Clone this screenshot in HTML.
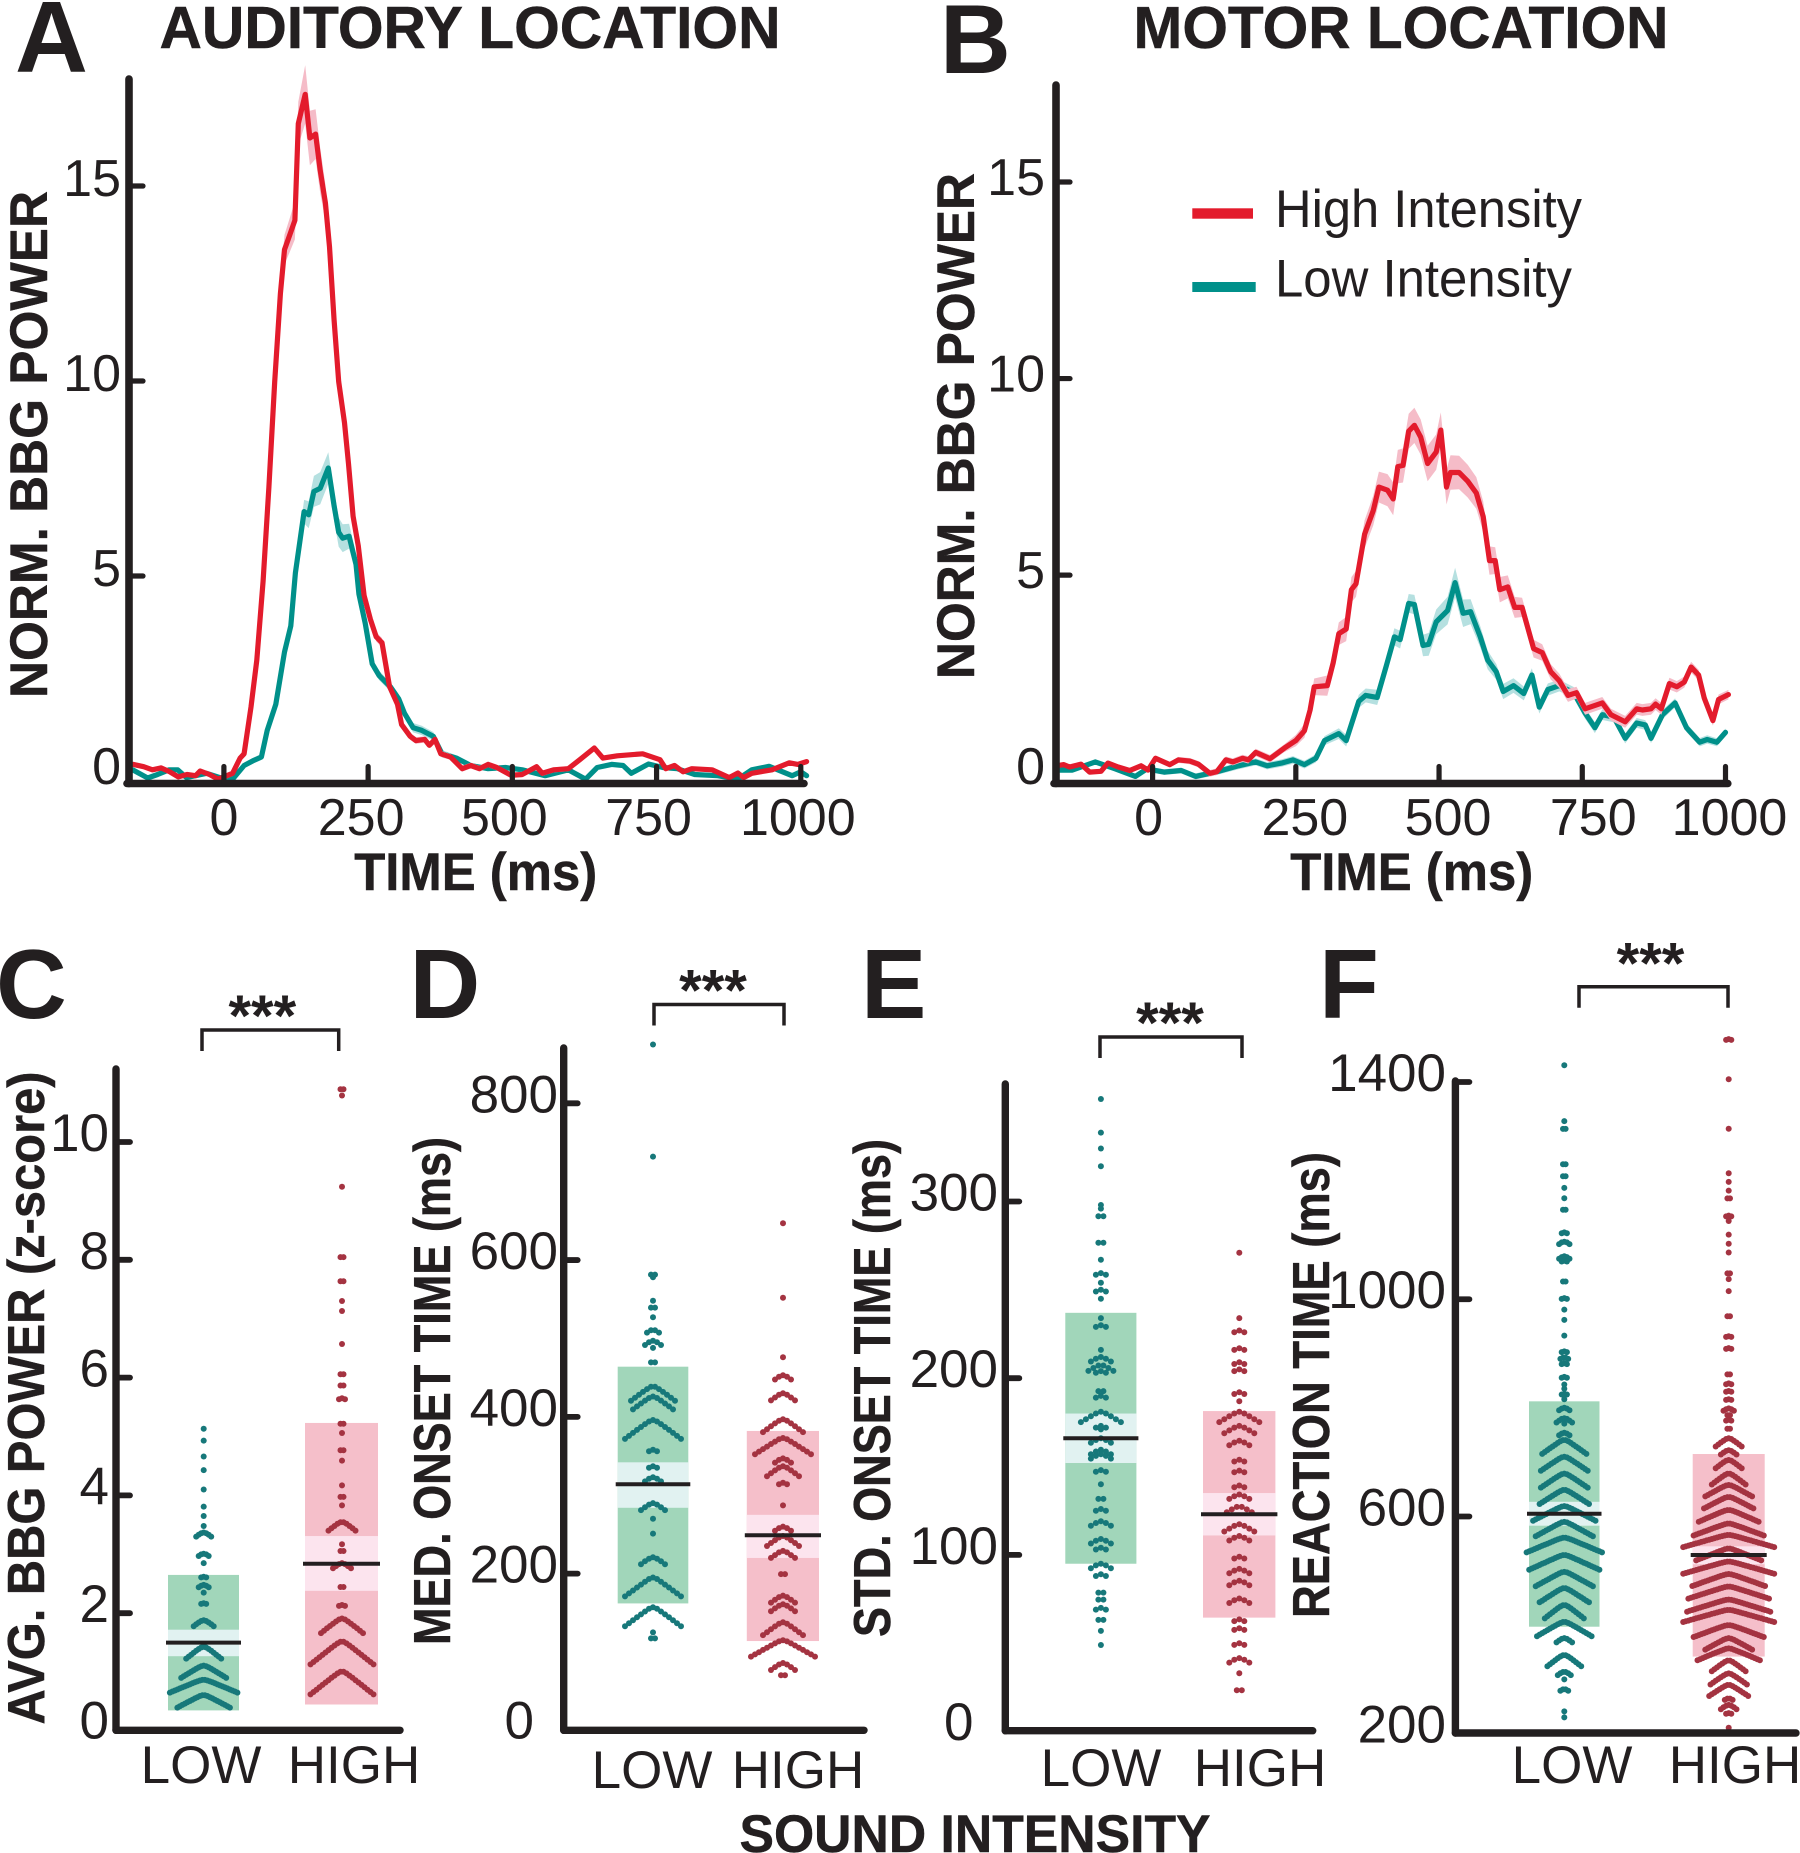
<!DOCTYPE html>
<html lang="en">
<head>
<meta charset="utf-8">
<title>Auditory and motor BBG power by sound intensity</title>
<style>
html,body{margin:0;padding:0;background:#fff;}
svg{display:block;}
text{font-family:"Liberation Sans",Arial,sans-serif;fill:#231f20;}
.bold{font-weight:700;stroke:#231f20;stroke-width:0.5px;}
.letter{font-weight:700;font-size:98px;}
</style>
</head>
<body>
<svg id="figure" xmlns="http://www.w3.org/2000/svg" width="1800" height="1853" viewBox="0 0 1800 1853">
  <rect x="0" y="0" width="1800" height="1853" fill="#ffffff"/>

  <text class="letter" x="15" y="72" style="font-size:101px">A</text>
  <text class="letter" x="940" y="73">B</text>
  <text class="letter" x="-4" y="1018">C</text>
  <text class="letter" x="409.500" y="1018">D</text>
  <text class="letter" x="861" y="1018">E</text>
  <text class="letter" x="1319" y="1018">F</text>

  <text class="bold" x="470" y="48" font-size="59" text-anchor="middle" textLength="621" lengthAdjust="spacingAndGlyphs">AUDITORY LOCATION</text>
  <text class="bold" x="1401" y="48" font-size="59" text-anchor="middle" textLength="535" lengthAdjust="spacingAndGlyphs">MOTOR LOCATION</text>

  <text class="bold" transform="translate(47 444.5) rotate(-90)" font-size="53" text-anchor="middle" textLength="507" lengthAdjust="spacingAndGlyphs">NORM. BBG POWER</text>
  <text class="bold" transform="translate(974 426) rotate(-90)" font-size="53" text-anchor="middle" textLength="506" lengthAdjust="spacingAndGlyphs">NORM. BBG POWER</text>
  <text class="bold" x="475.7" y="890" font-size="53" text-anchor="middle" textLength="243" lengthAdjust="spacingAndGlyphs">TIME (ms)</text>
  <text class="bold" x="1411.7" y="890" font-size="53" text-anchor="middle" textLength="243" lengthAdjust="spacingAndGlyphs">TIME (ms)</text>

  <text class="bold" transform="translate(44 1398) rotate(-90)" font-size="52" text-anchor="middle" textLength="653" lengthAdjust="spacingAndGlyphs">AVG. BBG POWER (z-score)</text>
  <text class="bold" transform="translate(450 1391) rotate(-90)" font-size="52" text-anchor="middle" textLength="508" lengthAdjust="spacingAndGlyphs">MED. ONSET TIME (ms)</text>
  <text class="bold" transform="translate(890 1388) rotate(-90)" font-size="52" text-anchor="middle" textLength="498" lengthAdjust="spacingAndGlyphs">STD. ONSET TIME (ms)</text>
  <text class="bold" transform="translate(1329 1385) rotate(-90)" font-size="52" text-anchor="middle" textLength="466" lengthAdjust="spacingAndGlyphs">REACTION TIME (ms)</text>
  <text class="bold" x="975" y="1852" font-size="53" text-anchor="middle" textLength="471" lengthAdjust="spacingAndGlyphs">SOUND INTENSITY</text>

  <g>
    <rect x="1192.3" y="208.3" width="60.7" height="10.4" fill="#e31b2c"/>
    <text x="1275" y="227" font-size="53" textLength="307" lengthAdjust="spacingAndGlyphs">High Intensity</text>
    <rect x="1192.3" y="282" width="63.4" height="10" fill="#00908a"/>
    <text x="1275" y="296.7" font-size="53" textLength="297" lengthAdjust="spacingAndGlyphs">Low Intensity</text>
  </g>
  <g id="plots"></g>
</svg>
<script>
// ---- Panel A: time courses (ms, normalized BBG power) ----
const aHighTimes = [-157,-139,-124,-109,-94,-79,-64,-49,-41,-25,-10,5,15,28,35,47,57,68,78,88,98,105,114,123,129,141,149,159,167,176,183,191,199,209,216,224,233,243,254,264,274,287,301,308,323,333,348,356,366,376,393,413,428,443,458,473,498,517,542,552,572,597,617,642,657,682,726,756,766,781,796,811,846,876,891,901,915,950,980,995,1010];
const aHighValues = [0.17,0.11,0.03,0.08,-0.02,-0.15,-0.09,-0.12,0,-0.09,-0.21,-0.12,-0.06,0.33,0.44,1.64,2.84,4.87,7.28,9.98,12.24,13.37,13.74,14.12,16.6,17.35,16.23,16.33,15.4,14.57,13.44,11.56,9.98,8.93,7.88,6.53,5.77,4.5,3.89,3.44,3.29,2.17,1.71,1.19,0.89,0.78,0.81,0.66,0.81,0.44,0.36,0.06,0.14,0.06,0.17,0.09,-0.11,-0.09,0.11,-0.06,0.03,0.06,0.29,0.59,0.33,0.39,0.44,0.29,0.06,0.14,-0.02,0.06,0.03,-0.17,-0.05,-0.17,-0.06,0.03,0.21,0.17,0.24];
const aLowTimes = [-158,-132,-115,-95,-80,-65,-30,-5,15,35,50,65,75,90,105,116,124,139,147,156,167,181,191,199,206,217,229,234,245,257,269,289,303,313,328,343,363,378,403,428,458,488,517,557,597,627,647,672,692,706,736,761,786,816,856,891,915,945,985,1000,1010];
const aLowValues = [0.03,-0.18,-0.09,0.03,0.03,-0.17,-0.06,-0.18,-0.21,0.14,0.26,0.36,1.04,1.71,3.05,3.72,5.08,6.65,6.57,7.17,7.25,7.77,6.8,6.12,5.97,6.02,5.3,4.54,3.79,2.75,2.45,2.15,1.85,1.48,1.11,1.04,0.89,0.44,0.33,0.14,0.06,0.09,0.03,-0.12,0.03,-0.21,0.09,0.17,0.14,-0.06,0.18,0.09,0.06,-0.09,-0.12,-0.21,0.03,0.12,-0.12,-0.02,-0.12];
const aHighSemTimes = [-160,60,100,125,141,165,195,240,290,340,1010];
const aHighSem = [0.04,0.08,0.35,0.5,0.75,0.6,0.25,0.12,0.12,0.08,0.04];
const aLowSemTimes = [-160,90,130,160,185,210,260,350,420,1010];
const aLowSem = [0.04,0.08,0.25,0.42,0.4,0.35,0.12,0.12,0.06,0.05];

// ---- Panel B: time courses (ms, normalized BBG power) ----
const bHighTimes = [-168,-155,-145,-125,-110,-90,-78,-60,-40,-20,-8,5,30,45,65,80,100,112,128,140,157,167,180,205,230,250,265,275,282,305,315,325,338,347,355,370,385,395,410,420,428,437,447,457,468,480,495,503,513,520,535,550,565,577,588,598,606,620,632,645,665,680,695,710,725,740,755,785,800,825,845,855,870,878,888,902,915,928,940,953,963,978,988,1005];
const bHighValues = [0.15,0.18,0.12,0.19,-0.01,0.01,0.22,0.12,0.03,0.15,0.04,0.34,0.18,0.3,0.27,0.19,-0.04,0,0.3,0.25,0.34,0.3,0.49,0.33,0.6,0.79,1.04,1.57,2.16,2.19,2.76,3.51,3.63,4.63,4.78,6.04,6.64,7.24,7.16,6.94,7.76,7.79,8.66,8.81,8.51,7.84,8.13,8.69,7.24,7.61,7.61,7.39,7.09,6.49,5.37,5.37,4.63,4.7,4.18,4.18,3.13,3.03,2.54,2.31,1.94,2.01,1.6,1.75,1.45,1.27,1.6,1.57,1.6,1.72,1.6,2.24,2.16,2.28,2.66,2.46,1.87,1.3,1.84,1.96];
const bLowTimes = [-168,-140,-100,-65,-30,-10,20,50,75,110,150,180,200,225,245,265,285,300,325,338,360,372,392,408,422,432,447,457,472,482,495,515,528,542,555,572,585,600,612,630,648,662,675,690,710,735,755,772,785,805,825,845,860,870,890,912,932,955,968,985,1000];
const bLowValues = [0.04,0.04,0.25,0.07,-0.12,0.07,-0.01,0.03,-0.12,-0.01,0.15,0.25,0.15,0.22,0.3,0.18,0.34,0.79,0.97,0.79,1.79,1.94,1.89,2.69,3.43,3.36,4.28,4.25,3.21,3.24,3.81,4.1,4.81,4.03,4.07,3.43,2.84,2.54,2.04,2.19,1.99,2.46,1.64,2.09,2.19,2.01,1.49,1.12,1.45,1.39,0.85,1.24,1.19,0.85,1.45,1.75,1.12,0.75,0.82,0.75,1];
const bHighSemTimes = [-168,230,300,400,455,505,570,640,740,900,1005];
const bHighSem = [0.05,0.1,0.25,0.4,0.45,0.45,0.4,0.25,0.15,0.15,0.12];
const bLowSemTimes = [-168,280,400,460,530,600,700,1000];
const bLowSem = [0.05,0.1,0.2,0.25,0.38,0.2,0.15,0.1];

// ---- Shared time-course tick labels ----
const timeTicks = [0,250,500,750,1000];
const powerTicks = [5,10,15];

// ---- Panel C: average BBG power (z-score) ----
const cCategories = ['LOW','HIGH'];
const cTicks = [2,4,6,8,10];
const cLowRowValues = [5.13,4.93,4.66,4.43,4.1,3.81,3.65,3.48,3.37,3.01,2.85,2.62,2.48,2.35,2.17,1.88,1.43,1.11,0.87,0.61];
const cLowRowCounts = [1,1,1,1,1,1,1,1,7,5,1,3,5,1,3,9,15,19,28,22];
const cHighRowValues = [10.9,10.79,9.24,8.05,7.64,7.3,7.13,6.57,6.06,5.87,5.65,5.22,5.06,4.77,4.59,4.17,3.98,3.83,3.55,3.17,3.06,2.85,2.45,2.14,1.91,1.52,1.01];
const cHighRowCounts = [2,1,1,2,2,1,1,1,2,2,3,2,1,2,1,1,2,1,10,1,2,7,2,3,15,22,22];
const cLowStats = [0.35,1.27,1.5,1.72,2.65];
const cHighStats = [0.45,2.38,2.84,3.31,5.23];

// ---- Panel D: median onset time (ms) ----
const dCategories = ['LOW','HIGH'];
const dTicks = [200,400,600,800];
const dLowRowValues = [875,732,582,578,548,540,527,511,497,488,470,439,426,396,358,337,323,290,270,251,221,195,157,125,118];
const dLowRowCounts = [1,1,2,1,1,2,1,4,5,1,2,12,11,15,3,3,5,7,1,1,7,15,15,1,2];
const dHighRowValues = [647,552,476,453,430,397,373,347,337,316,287,260,248,229,200,172,161,138,115,86,71];
const dHighRowCounts = [1,1,1,5,7,11,15,5,9,3,1,5,9,7,2,7,7,11,17,7,2];
const dLowStats = [162,284,314,342,464];
const dHighStats = [114,220,249,275,382];

// ---- Panel E: std. onset time (ms) ----
const eCategories = ['LOW','HIGH'];
const eTicks = [100,200,300];
const eLowRowValues = [358,339,330,320,298,296,292,277,267,259.5,254,250,245,234,230,216,212,207.5,204,193,190,181,173,171,166,159.5,157,148,140,132,126,119,109,104,95,89,79,75,70,63.5,57,49];
const eLowRowCounts = [1,1,1,1,1,1,2,2,1,3,1,3,1,1,3,1,5,6,3,2,3,9,3,1,5,5,5,3,1,2,3,5,5,3,5,3,2,2,3,2,1,1];
const eHighRowValues = [271,234,227,217,209,205,192,187,181,173,164.6,153.8,147.7,139.3,134.2,127.5,117.4,110.7,98.9,92.1,85.4,75.3,63.5,58.5,50,41.6,33,23.7];
const eHighRowCounts = [1,1,3,3,3,3,3,1,9,7,5,3,3,3,5,6,7,5,3,5,5,5,3,3,3,5,1,2];
const eLowStats = [95,152,166,180,237];
const eHighStats = [64.5,111,123,135,181.4];

// ---- Panel F: reaction time (ms) ----
const fCategories = ['LOW','HIGH'];
const fTicks = [600,1000,1400];
const fLowRowValues = [1431,1328,1314,1249,1227,1205,1186,1165,1123,1106,1079,1071,1033,1002,981,962,933,904,893,882,857,843,835,826,816,800,781,771,754,741,710,679,649,619,590,561,529,498,468,437,406,376,345,314,300,282,241,230];
const fLowRowCounts = [1,1,2,2,2,1,1,2,3,5,5,3,2,3,1,1,1,3,4,3,3,1,1,3,1,5,7,1,5,18,19,19,20,25,23,30,28,23,20,16,22,7,14,6,1,4,1,1];
const fHighRowValues = [1479,1405,1314,1232,1216,1200,1186,1154,1144,1119,1102,1086,1048,1037,1015,969,932,910,862,845,831,816,799,787,778,762,744,722,704,679,658,636,612,587,566,541,517,494,471,447,428,400,376,357,335,311,290,265,253,238,211];
const fHighRowCounts = [3,1,1,1,1,1,2,3,1,1,1,1,2,1,1,2,3,3,2,3,3,3,5,2,3,2,11,7,11,14,19,20,24,28,36,26,36,29,32,33,36,28,19,25,14,15,16,4,7,3,1];
const fLowStats = [397,583,605,627,812];
const fHighStats = [342,512,529,545,715];

const SVGNS = 'http://www.w3.org/2000/svg';
const INK = '#231f20';
const plots = document.getElementById('plots');

function add(parent, tag, attrs) {
  const el = document.createElementNS(SVGNS, tag);
  for (const k in attrs) el.setAttribute(k, attrs[k]);
  
  parent.appendChild(el);
  return el;
}
function linearScale(d0, r0, d1, r1) {
  return function (v) { return r0 + (v - d0) * (r1 - r0) / (d1 - d0); };
}
function interp(xs, ys, x) {
  if (x <= xs[0]) return ys[0];
  for (let i = 1; i < xs.length; i++) {
    if (x <= xs[i]) return ys[i - 1] + (ys[i] - ys[i - 1]) * (x - xs[i - 1]) / (xs[i] - xs[i - 1]);
  }
  return ys[ys.length - 1];
}

function drawSeries(g, key, times, values, semTimes, sem, x, y, lineColor, bandColor) {
  const upper = times.map(function (t, i) { return x(t).toFixed(1) + ',' + y(values[i] + interp(semTimes, sem, t)).toFixed(1); });
  const lower = times.map(function (t, i) { return x(t).toFixed(1) + ',' + y(values[i] - interp(semTimes, sem, t)).toFixed(1); }).reverse();
  const band = add(g, 'polygon', { points: upper.concat(lower).join(' '), fill: bandColor, stroke: 'none' });
  
  const line = add(g, 'polyline', {
    points: times.map(function (t, i) { return x(t).toFixed(1) + ',' + y(values[i]).toFixed(1); }).join(' '),
    fill: 'none', stroke: lineColor, 'stroke-width': 5.2, 'stroke-linejoin': 'round', 'stroke-linecap': 'round'
  });
  
}

function drawTimePanel(p) {
  const g = add(plots, 'g', {});
  
  const x = linearScale(0, p.x0, 1000, p.x1000);
  const y = linearScale(0, p.y0, 15, p.y15);

  drawSeries(g, 'low-intensity', p.lowT, p.lowV, p.lowSemT, p.lowSem, x, y, '#00908a', '#b5e0e0');
  drawSeries(g, 'high-intensity', p.highT, p.highV, p.highSemT, p.highSem, x, y, '#e31b2c', '#f5bcc8');

  const yAxis = add(g, 'line', { x1: p.axisX, x2: p.axisX, y1: p.top, y2: p.bottom, stroke: INK, 'stroke-width': 7.6, 'stroke-linecap': 'round' });
  
  const xAxis = add(g, 'line', { x1: p.axisX - 2, x2: p.axisEnd, y1: p.bottom, y2: p.bottom, stroke: INK, 'stroke-width': 7.6, 'stroke-linecap': 'round' });
  

  timeTicks.forEach(function (t, i) {
    const tick = add(g, 'line', { x1: x(t), x2: x(t), y1: p.bottom, y2: p.bottom - 17, stroke: INK, 'stroke-width': 5.2, 'stroke-linecap': 'round' });
    
    const label = add(g, 'text', { x: x(t) + p.xLabelDx[i], y: 835, 'font-size': 52, 'text-anchor': 'middle' });
    
    label.textContent = String(t);
  });
  powerTicks.forEach(function (v) {
    const tick = add(g, 'line', { x1: p.axisX, x2: p.axisX + 14, y1: y(v), y2: y(v), stroke: INK, 'stroke-width': 5.2, 'stroke-linecap': 'round' });
    
    const label = add(g, 'text', { x: p.labelRight, y: y(v) + p.labelDy, 'font-size': 52, 'text-anchor': 'end' });
    
    label.textContent = String(v);
  });
  const zero = add(g, 'text', { x: p.labelRight, y: 784, 'font-size': 52, 'text-anchor': 'end' });
  
  zero.textContent = '0';
}

function drawGroup(g, key, stats, rowValues, rowCounts, y, cx, left, right, gap, drop, maxSlope, colors) {
  const box = add(g, 'rect', { x: left, y: y(stats[4]), width: right - left, height: y(stats[0]) - y(stats[4]), fill: colors.box });
  
  const ci = add(g, 'rect', { x: left, y: y(stats[3]), width: right - left, height: y(stats[1]) - y(stats[3]), fill: colors.ci });
  
  rowValues.forEach(function (v, r) {
    const n = rowCounts[r];
    const half = Math.max((n - 1) / 2 * gap, 1);
    const slope = Math.min(drop / half, maxSlope);
    for (let i = 0; i < n; i++) {
      const off = (i - (n - 1) / 2) * gap;
      const round = Math.sqrt(off * off + 9) - 3;
      const dot = add(g, 'circle', { cx: (cx + off).toFixed(1), cy: (y(v) + slope * round).toFixed(1), r: 3, fill: colors.dot });
      
    }
  });
  const mean = add(g, 'line', { x1: left - 2, x2: right + 2, y1: y(stats[2]), y2: y(stats[2]), stroke: INK, 'stroke-width': 4 });
  
}

const GREEN = { box: '#a1d6ba', ci: '#e1f2f1', dot: '#17787a' };
const PINK = { box: '#f5bfca', ci: '#fce4ee', dot: '#a43341' };

function drawSwarmPanel(p) {
  const g = add(plots, 'g', {});
  
  const y = linearScale(p.d0, p.y0, p.d1, p.y1);

  drawGroup(g, 'low', p.lowStats, p.lowRowValues, p.lowRowCounts, y, p.lowC, p.lowL, p.lowR, p.lowGap, p.lowDrop, p.maxSlope, GREEN);
  drawGroup(g, 'high', p.highStats, p.highRowValues, p.highRowCounts, y, p.highC, p.highL, p.highR, p.highGap, p.highDrop, p.maxSlope, PINK);

  const yAxis = add(g, 'line', { x1: p.axisX, x2: p.axisX, y1: p.top, y2: p.bottom, stroke: INK, 'stroke-width': 7.4, 'stroke-linecap': 'round' });
  
  const xAxis = add(g, 'line', { x1: p.axisX, x2: p.axisEnd, y1: p.bottom, y2: p.bottom, stroke: INK, 'stroke-width': 7.4, 'stroke-linecap': 'round' });
  

  p.ticks.forEach(function (v) {
    const tick = add(g, 'line', { x1: p.axisX, x2: p.axisX + 14, y1: y(v), y2: y(v), stroke: INK, 'stroke-width': 5.8, 'stroke-linecap': 'round' });
    
    const label = add(g, 'text', { x: p.labelRight, y: y(v) + 9, 'font-size': 53, 'text-anchor': 'end' });
    
    label.textContent = String(v);
  });
  const base = add(g, 'text', { x: p.baseLabelRight, y: p.baseLabelY, 'font-size': 53, 'text-anchor': 'end' });
  
  base.textContent = String(p.d0);

  p.categories.forEach(function (c, i) {
    const label = add(g, 'text', { x: p.catX[i], y: p.catY, 'font-size': 53, 'text-anchor': 'middle' });
    
    label.textContent = c;
  });

  const bracket = add(g, 'polyline', {
    points: p.brX0 + ',' + (p.brTop + 21) + ' ' + p.brX0 + ',' + p.brTop + ' ' + p.brX1 + ',' + p.brTop + ' ' + p.brX1 + ',' + (p.brTop + 21),
    fill: 'none', stroke: INK, 'stroke-width': 3.5
  });
  
  const stars = add(g, 'text', { x: (p.brX0 + p.brX1) / 2 - 8 + p.starDx, y: p.brTop + p.starDy, 'font-size': 58, 'font-weight': 700, 'text-anchor': 'middle' });
  
  stars.textContent = '***';
}

drawTimePanel({ id: 'a', x0: 223.9, x1000: 800.8, y0: 771, y15: 186, axisX: 129, axisEnd: 804, top: 79, bottom: 783.5,
  labelRight: 121, labelDy: 10, xLabelDx: [0, -7, -8, -8, -3],
  highT: aHighTimes, highV: aHighValues, highSemT: aHighSemTimes, highSem: aHighSem,
  lowT: aLowTimes, lowV: aLowValues, lowSemT: aLowSemTimes, lowSem: aLowSem });

drawTimePanel({ id: 'b', x0: 1152.6, x1000: 1725.5, y0: 771.7, y15: 182, axisX: 1056, axisEnd: 1727.8, top: 85, bottom: 783.5,
  labelRight: 1045, labelDy: 13, xLabelDx: [-4, 9, 9, 11, 4],
  highT: bHighTimes, highV: bHighValues, highSemT: bHighSemTimes, highSem: bHighSem,
  lowT: bLowTimes, lowV: bLowValues, lowSemT: bLowSemTimes, lowSem: bLowSem });

drawSwarmPanel({ id: 'c', d0: 0, y0: 1731, d1: 10, y1: 1142, axisX: 116, axisEnd: 400, top: 1069, bottom: 1730.3, maxSlope: 0.8,
  ticks: cTicks, labelRight: 109, baseLabelRight: 109, baseLabelY: 1738.5, categories: cCategories, catX: [201, 354], catY: 1783,
  lowStats: cLowStats, lowRowValues: cLowRowValues, lowRowCounts: cLowRowCounts, lowC: 203.7, lowL: 168, lowR: 239, lowGap: 2.5, lowDrop: 14,
  highStats: cHighStats, highRowValues: cHighRowValues, highRowCounts: cHighRowCounts, highC: 342, highL: 305, highR: 378, highGap: 3, highDrop: 26,
  brX0: 202, brX1: 338.7, brTop: 1030, starDx: 0, starDy: 6 });

drawSwarmPanel({ id: 'd', d0: 0, y0: 1730.4, d1: 800, y1: 1103.3, axisX: 563.7, axisEnd: 864, top: 1048, bottom: 1730.3, maxSlope: 0.75,
  ticks: dTicks, labelRight: 558, baseLabelRight: 534, baseLabelY: 1738.5, categories: dCategories, catX: [652, 798], catY: 1788,
  lowStats: dLowStats, lowRowValues: dLowRowValues, lowRowCounts: dLowRowCounts, lowC: 653, lowL: 617.7, lowR: 688.3, lowGap: 4, lowDrop: 22,
  highStats: dHighStats, highRowValues: dHighRowValues, highRowCounts: dHighRowCounts, highC: 783, highL: 746.8, highR: 819, highGap: 4, highDrop: 18,
  brX0: 654, brX1: 784, brTop: 1004.5, starDx: 2, starDy: 6 });

drawSwarmPanel({ id: 'e', d0: 0, y0: 1731.6, d1: 300, y1: 1201.5, axisX: 1005.3, axisEnd: 1312.7, top: 1084, bottom: 1730.7, maxSlope: 0.6,
  ticks: eTicks, labelRight: 998, baseLabelRight: 973.5, baseLabelY: 1740, categories: eCategories, catX: [1101, 1260], catY: 1786,
  lowStats: eLowStats, lowRowValues: eLowRowValues, lowRowCounts: eLowRowCounts, lowC: 1100.9, lowL: 1065.3, lowR: 1136.4, lowGap: 5, lowDrop: 16,
  highStats: eHighStats, highRowValues: eHighRowValues, highRowCounts: eHighRowCounts, highC: 1239.3, highL: 1203, highR: 1275.4, highGap: 5, highDrop: 16,
  brX0: 1100, brX1: 1242, brTop: 1037, starDx: 7, starDy: 6 });

drawSwarmPanel({ id: 'f', d0: 200, y0: 1733.7, d1: 1400, y1: 1082, axisX: 1455.4, axisEnd: 1796, top: 1081, bottom: 1733, maxSlope: 0.8,
  ticks: fTicks, labelRight: 1446, baseLabelRight: 1446, baseLabelY: 1742.6, categories: fCategories, catX: [1572, 1735], catY: 1783,
  lowStats: fLowStats, lowRowValues: fLowRowValues, lowRowCounts: fLowRowCounts, lowC: 1564.3, lowL: 1529, lowR: 1599.5, lowGap: 2.6, lowDrop: 16,
  highStats: fHighStats, highRowValues: fHighRowValues, highRowCounts: fHighRowCounts, highC: 1728.7, highL: 1692.7, highR: 1764.7, highGap: 2.6, highDrop: 13,
  brX0: 1579, brX1: 1728, brTop: 986.7, starDx: 5, starDy: -3 });
</script>
</body>
</html>
